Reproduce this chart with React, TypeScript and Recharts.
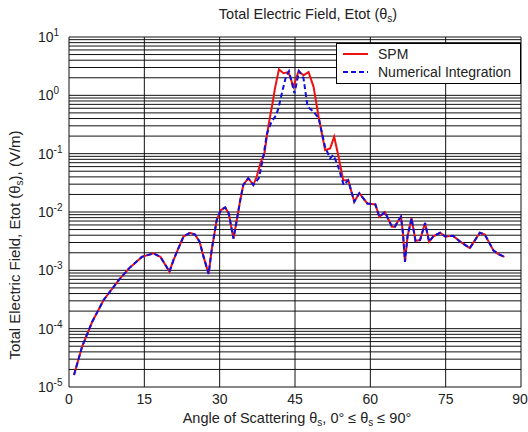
import { LineChart, Line, XAxis, YAxis, ReferenceLine } from 'recharts'

// SPM (red solid) and Numerical Integration (blue dashed)
const spmAngles = [
  1.0, 2.6, 4.6, 6.9, 9.9, 11.9, 14.5, 16.8, 18.2, 18.8, 20.0, 20.8, 21.8, 22.8, 24.1, 25.1, 26.0, 26.8, 27.8,
  28.4, 29.4, 30.2, 31.1, 31.8, 32.75, 33.4, 34.1, 34.7, 35.7, 36.7, 37.4, 38.1, 38.9, 39.7, 40.6, 41.0,
  41.8, 42.7, 43.7, 44.7, 45.7, 46.7, 47.7, 48.7, 49.7, 51.0, 52.0, 52.8, 53.6, 54.6, 55.6, 56.8, 57.8,
  59.4, 61.0, 61.8, 62.9, 64.3, 64.9, 65.6, 66.1, 66.5, 66.9, 67.4, 68.2, 69.0, 69.9, 70.9, 71.7, 72.5,
  73.9, 74.9, 76.5, 77.9, 79.8, 81.8, 82.8, 84.5, 85.5, 86.7,
]
const spmValues = [
  1.6e-5, 4.9e-5, 1.3e-4, 3.1e-4, 6.8e-4, 1.07e-3, 1.7e-3, 1.95e-3, 1.7e-3, 1.4e-3, 9.5e-4, 1.5e-3, 2.4e-3, 3.8e-3, 4.4e-3, 4.1e-3, 3.1e-3, 1.7e-3, 8.7e-4,
  2.2e-3, 7.2e-3, 1.07e-2, 1.2e-2, 9.5e-3, 3.5e-3, 7.2e-3, 1.6e-2, 2.9e-2, 3.8e-2, 2.9e-2, 4.1e-2, 6.8e-2, 0.10, 0.30, 0.79, 1.3,
  2.8, 2.4, 2.5, 1.4, 2.6, 2.2, 2.5, 1.4, 0.43, 0.115, 0.123, 0.195, 0.095, 0.035, 0.035, 0.015, 0.021,
  0.014, 0.0135, 0.0083, 0.01, 0.0056, 0.0056, 0.0072, 0.0083, 0.0043, 0.0014, 0.0038, 0.0078, 0.0032, 0.0033, 0.0065, 0.0031, 0.0038,
  0.0044, 0.0038, 0.0039, 0.0031, 0.0024, 0.0044, 0.0041, 0.0022, 0.0019, 0.0017,
]

const niAngles = [
  1.0, 2.6, 4.6, 6.9, 9.9, 11.9, 14.5, 16.8, 18.2, 18.8, 20.0, 20.8, 21.8, 22.8, 24.1, 25.1, 26.0, 26.8, 27.8,
  28.4, 29.4, 30.2, 31.1, 31.8, 32.75, 33.4, 34.1, 34.7, 35.7, 36.7, 37.8, 38.7, 39.4, 40.3, 41.2, 41.7,
  42.4, 43.2, 43.8, 44.9, 45.8, 46.7, 47.5, 48.7, 49.7, 51.0, 52.0, 52.6, 53.4, 54.7, 55.6, 56.8, 57.8,
  59.4, 61.0, 61.8, 62.9, 64.3, 64.9, 65.6, 66.1, 66.5, 66.9, 67.4, 68.2, 69.0, 69.9, 70.9, 71.7, 72.5,
  73.9, 74.9, 76.5, 77.9, 79.8, 81.8, 82.8, 84.5, 85.5, 86.7,
]
const niValues = [
  1.6e-5, 4.9e-5, 1.3e-4, 3.1e-4, 6.8e-4, 1.07e-3, 1.7e-3, 1.95e-3, 1.7e-3, 1.4e-3, 9.5e-4, 1.5e-3, 2.4e-3, 3.8e-3, 4.4e-3, 4.1e-3, 3.1e-3, 1.7e-3, 8.7e-4,
  2.2e-3, 7.2e-3, 1.07e-2, 1.2e-2, 9.5e-3, 3.5e-3, 7.2e-3, 1.6e-2, 2.9e-2, 3.8e-2, 2.9e-2, 3.8e-2, 8.9e-2, 0.22, 0.35, 0.45, 0.6,
  1.1, 2.1, 2.6, 1.08, 2.6, 1.95, 0.64, 0.52, 0.41, 0.13, 0.083, 0.095, 0.068, 0.029, 0.035, 0.015, 0.021,
  0.014, 0.0135, 0.0083, 0.01, 0.0056, 0.0056, 0.0072, 0.0083, 0.0043, 0.0014, 0.0038, 0.0078, 0.0032, 0.0033, 0.0065, 0.0031, 0.0038,
  0.0044, 0.0038, 0.0039, 0.0031, 0.0024, 0.0044, 0.0041, 0.0022, 0.0019, 0.0017,
]

const xTicks = [0, 15, 30, 45, 60, 75, 90]
const yTicks = [1e-5, 1e-4, 1e-3, 1e-2, 1e-1, 1, 10]
const yExponents = ['-5', '-4', '-3', '-2', '-1', '0', '1']
const minorSteps = [1, 2, 3, 4, 5, 6, 7, 8, 9]

const spmData = spmAngles.map((a, i) => ({ angle: a, value: spmValues[i] }))
const niData = niAngles.map((a, i) => ({ angle: a, value: niValues[i] }))
const gridValues = yTicks.slice(0, -1).flatMap((d) => minorSteps.map((m) => +(d * m).toPrecision(3))).concat([10])

const FONT = '"Liberation Sans", Arial, sans-serif'

function YTick({ y, payload }: { x?: number; y?: number; payload?: { value: number } }) {
  const i = yTicks.indexOf(payload?.value ?? 0)
  return (
    <text x={38} y={(y ?? 0) + 5} fontSize={14} fontFamily={FONT} fill="#222" textAnchor="start">
      10<tspan dy={-6} fontSize={10}>{yExponents[i]}</tspan>
    </text>
  )
}

function XTick({ x, payload }: { x?: number; y?: number; payload?: { value: number } }) {
  return (
    <text x={x} y={404} fontSize={14} fontFamily={FONT} fill="#222" textAnchor="middle">
      {payload?.value}
    </text>
  )
}

export default function App() {
  return (
    <div style={{ position: 'absolute', left: 0, top: 0, width: 528, height: 432, background: '#fff', fontFamily: FONT }}>
      <LineChart width={528} height={432} margin={{ top: 37, right: 7, bottom: 0, left: 0 }}>
        <XAxis
          type="number" dataKey="angle" domain={[0, 90]} ticks={xTicks} allowDataOverflow
          height={45} axisLine={false} tickLine={false} tick={<XTick />}
        />
        <YAxis
          type="number" dataKey="value" scale="log" domain={[1e-5, 10]} ticks={yTicks} allowDataOverflow
          width={69} axisLine={false} tickLine={false} tick={<YTick />}
        />
        {gridValues.map((v) => (
          <ReferenceLine key={'h' + v} y={v} stroke="#111" strokeWidth={1} />
        ))}
        {xTicks.map((v) => (
          <ReferenceLine key={'v' + v} x={v} stroke="#111" strokeWidth={1} />
        ))}
        <Line data={spmData} dataKey="value" type="linear" stroke="#ee1111" strokeWidth={2} dot={false} isAnimationActive={false} />
        <Line data={niData} dataKey="value" type="linear" stroke="#1010dd" strokeWidth={2} strokeDasharray="5 3" dot={false} isAnimationActive={false} />
      </LineChart>

      <svg width={528} height={432} style={{ position: 'absolute', left: 0, top: 0, pointerEvents: 'none' }}>
        <text x={308} y={19} fontSize={14.5} fontFamily={FONT} fill="#222" textAnchor="middle">
          Total Electric Field, Etot (θ<tspan dy={3} fontSize={10}>s</tspan><tspan dy={-3}>)</tspan>
        </text>
        <text x={297} y={423} fontSize={14.5} fontFamily={FONT} fill="#222" textAnchor="middle">
          Angle of Scattering θ<tspan dy={3} fontSize={10}>s</tspan><tspan dy={-3}>, 0° ≤ θ</tspan>
          <tspan dy={3} fontSize={10}>s</tspan><tspan dy={-3}> ≤ 90°</tspan>
        </text>
        <text x={0} y={0} fontSize={15} fontFamily={FONT} fill="#222" textAnchor="middle" transform="translate(20,245) rotate(-90)">
          Total Electric Field, Etot (θ<tspan dy={3} fontSize={10}>s</tspan><tspan dy={-3}>), (V/m)</tspan>
        </text>
        <rect x={336.5} y={43.5} width={184} height={40} fill="#fff" stroke="#000" strokeWidth={1} />
        <line x1={343} x2={368} y1={54} y2={54} stroke="#ee1111" strokeWidth={2} />
        <text x={378} y={59} fontSize={14} fontFamily={FONT} fill="#222">SPM</text>
        <line x1={343} x2={368} y1={72} y2={72} stroke="#1010dd" strokeWidth={2} strokeDasharray="5 3" />
        <text x={378} y={77} fontSize={14} fontFamily={FONT} fill="#222">Numerical Integration</text>
      </svg>
    </div>
  )
}
